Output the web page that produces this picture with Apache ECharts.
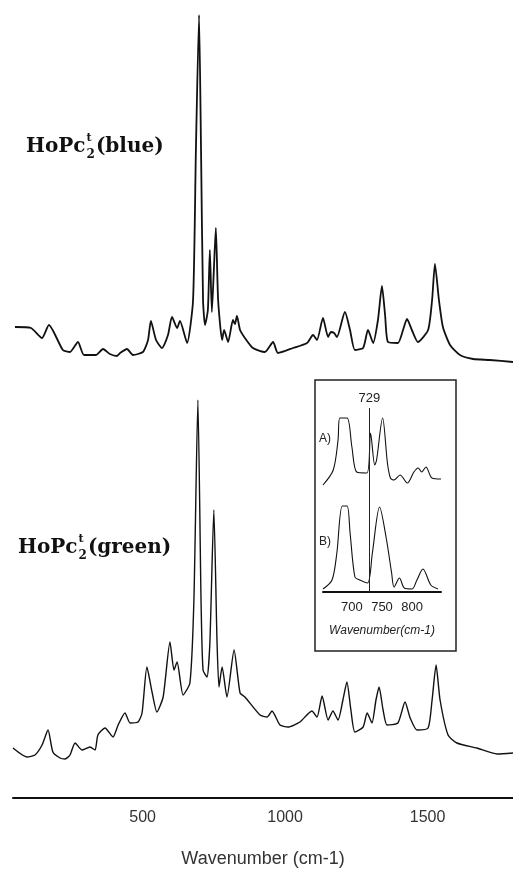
<!DOCTYPE html>
<html>
<head>
<meta charset="utf-8">
<script src="https://cdn.jsdelivr.net/npm/echarts@6/dist/echarts.min.js"></script>
<style>
  html, body { margin: 0; padding: 0; background: #fff; }
  #chart { width: 513px; height: 869px; }
</style>
</head>
<body>
<div id="chart"></div>
<script>
// main spectra: [wavenumber cm-1, intensity (arb.)]
const blueSpectrum = [
  [52, 53], [108, 52], [147, 42], [171, 55], [220, 30], [245, 28], [273, 38], [294, 25],
  [336, 25], [361, 31], [385, 26], [410, 24], [421, 27], [445, 31], [466, 25], [501, 28],
  [519, 40], [529, 59], [547, 40], [568, 32], [589, 45], [603, 63], [621, 52], [631, 59],
  [656, 37], [677, 80], [687, 230], [698, 365], [705, 230], [712, 80], [719, 55], [729, 70],
  [736, 130], [743, 68], [750, 110], [757, 152], [765, 80], [779, 40], [786, 50], [800, 38],
  [817, 60], [824, 56], [831, 64], [842, 50], [859, 42], [887, 32], [929, 28], [958, 38],
  [975, 27], [1028, 32], [1077, 37], [1098, 45], [1112, 40], [1133, 62], [1151, 43], [1161, 48],
  [1172, 47], [1182, 43], [1210, 68], [1228, 50], [1245, 30], [1274, 32], [1291, 50], [1309, 37],
  [1326, 60], [1340, 94], [1351, 65], [1361, 38], [1396, 37], [1414, 50], [1428, 61], [1445, 50],
  [1466, 38], [1502, 50], [1516, 80], [1526, 116], [1540, 80], [1554, 53], [1579, 35], [1614, 25],
  [1660, 21], [1719, 20], [1800, 18]
];

const greenSpectrum = [
  [45, 50], [94, 41], [122, 43], [147, 53], [168, 68], [185, 46], [210, 40], [228, 39],
  [245, 43], [263, 55], [287, 48], [315, 51], [333, 48], [343, 63], [368, 70], [396, 61],
  [414, 73], [438, 85], [456, 75], [484, 76], [498, 85], [515, 131], [533, 106], [550, 86],
  [572, 101], [596, 156], [610, 128], [621, 136], [642, 103], [666, 115], [680, 198], [694, 398],
  [705, 198], [712, 128], [726, 121], [736, 155], [750, 288], [761, 158], [768, 111], [779, 131],
  [796, 101], [821, 148], [842, 105], [859, 101], [912, 83], [937, 81], [954, 87], [982, 73],
  [1010, 71], [1052, 76], [1094, 87], [1112, 81], [1130, 102], [1151, 78], [1168, 87], [1186, 78],
  [1203, 98], [1217, 116], [1231, 88], [1245, 66], [1274, 71], [1288, 85], [1305, 75], [1319, 98],
  [1330, 111], [1344, 88], [1358, 73], [1396, 75], [1421, 96], [1439, 80], [1463, 68], [1502, 70],
  [1516, 98], [1530, 133], [1544, 98], [1572, 63], [1603, 55], [1673, 50], [1744, 44], [1800, 45]
];

// inset (700-800 cm-1 region)
const insetA = [
  [652, 107], [669, 122], [677, 152], [680, 174], [692, 174], [700, 145], [708, 120], [725, 119],
  [731, 159], [738, 127], [741, 132], [751, 174], [759, 129], [764, 114], [770, 112], [780, 117],
  [792, 109], [803, 120], [810, 124], [816, 120], [823, 125], [833, 114], [848, 113]
];
const insetB = [
  [652, 3], [667, 12], [675, 39], [684, 86], [692, 86], [697, 59], [705, 15], [713, 12],
  [726, 9], [734, 39], [746, 85], [757, 54], [766, 19], [770, 5], [779, 14], [787, 4],
  [800, 3], [808, 12], [818, 23], [831, 7], [843, 3]
];

const mainTicks = [500, 1000, 1500];
const insetTicks = [700, 750, 800];
const markedLine = 729;

const chart = echarts.init(document.getElementById('chart'));

const labelRich = {
  a: { fontFamily: 'DejaVu Serif', fontWeight: 'bold', fontSize: 20, color: '#111', lineHeight: 28, verticalAlign: 'middle' },
  sup: { fontFamily: 'DejaVu Serif', fontWeight: 'bold', fontSize: 11, color: '#111', verticalAlign: 'top', lineHeight: 28, padding: [0, 0, 10, 1] },
  sub: { fontFamily: 'DejaVu Serif', fontWeight: 'bold', fontSize: 12, color: '#111', verticalAlign: 'bottom', lineHeight: 28, padding: [8, 1, 0, -5] }
};

chart.setOption({
  animation: false,
  backgroundColor: '#fff',
  title: [
    { text: '{a|HoPc}{sup|t}{sub|2}{a|(blue)}', left: 21, top: 128, textStyle: { rich: labelRich } },
    { text: '{a|HoPc}{sup|t}{sub|2}{a|(green)}', left: 13, top: 529, textStyle: { rich: labelRich } }
  ],
  graphic: [
    {
      type: 'rect',
      shape: { x: 315, y: 380, width: 141, height: 271 },
      style: { fill: 'none', stroke: '#222', lineWidth: 1.5 },
      z: 10
    },
    { type: 'text', left: 319, top: 433, style: { text: 'A)', font: '12px "Liberation Sans"', fill: '#222' }, z: 10 },
    { type: 'text', left: 319, top: 536, style: { text: 'B)', font: '12px "Liberation Sans"', fill: '#222' }, z: 10 }
  ],
  grid: [
    { left: 13, right: 0, top: 15, bottom: 489 },
    { left: 13, right: 0, top: 400, bottom: 71 },
    { left: 323, right: 72, top: 408, bottom: 277 }
  ],
  xAxis: [
    { gridIndex: 0, type: 'value', min: 45, max: 1800, show: false },
    {
      gridIndex: 1, type: 'value', min: 45, max: 1800,
      splitLine: { show: false },
      axisLine: { lineStyle: { color: '#111', width: 2 } },
      axisTick: { show: false },
      axisLabel: {
        customValues: mainTicks, margin: 12, formatter: v => String(v),
        fontFamily: 'Liberation Sans', fontSize: 16, color: '#333'
      },
      name: 'Wavenumber (cm-1)', nameLocation: 'middle', nameGap: 52,
      nameTextStyle: { fontFamily: 'Liberation Sans', fontSize: 18, color: '#333' }
    },
    {
      gridIndex: 2, type: 'value', min: 652, max: 848,
      splitLine: { show: false },
      axisLine: { lineStyle: { color: '#111', width: 2 } },
      axisTick: { show: false },
      axisLabel: {
        customValues: insetTicks, margin: 9, formatter: v => String(v),
        fontFamily: 'Liberation Sans', fontSize: 13, color: '#222'
      },
      name: 'Wavenumber(cm-1)', nameLocation: 'middle', nameGap: 33,
      nameTextStyle: { fontFamily: 'Liberation Sans', fontStyle: 'italic', fontSize: 12, color: '#222' }
    }
  ],
  yAxis: [
    { gridIndex: 0, type: 'value', min: 0, max: 365, show: false },
    { gridIndex: 1, type: 'value', min: 0, max: 398, show: false },
    { gridIndex: 2, type: 'value', min: 0, max: 184, show: false }
  ],
  series: [
    {
      name: 'blue', type: 'line', xAxisIndex: 0, yAxisIndex: 0, data: blueSpectrum, smooth: 0.2,
      showSymbol: false, lineStyle: { color: '#111', width: 1.8 }
    },
    {
      name: 'green', type: 'line', xAxisIndex: 1, yAxisIndex: 1, data: greenSpectrum, smooth: 0.2,
      showSymbol: false, lineStyle: { color: '#111', width: 1.4 }
    },
    {
      name: 'A', type: 'line', xAxisIndex: 2, yAxisIndex: 2, data: insetA, smooth: 0.3,
      showSymbol: false, lineStyle: { color: '#111', width: 1.1 },
      markLine: {
        silent: true, symbol: 'none',
        lineStyle: { color: '#222', width: 1, type: 'solid' },
        label: { show: true, position: 'end', formatter: String(markedLine), fontFamily: 'Liberation Sans', fontSize: 13, color: '#222', distance: 3 },
        data: [{ xAxis: markedLine }]
      }
    },
    {
      name: 'B', type: 'line', xAxisIndex: 2, yAxisIndex: 2, data: insetB, smooth: 0.3,
      showSymbol: false, lineStyle: { color: '#111', width: 1.1 }
    }
  ]
});
</script>
</body>
</html>
